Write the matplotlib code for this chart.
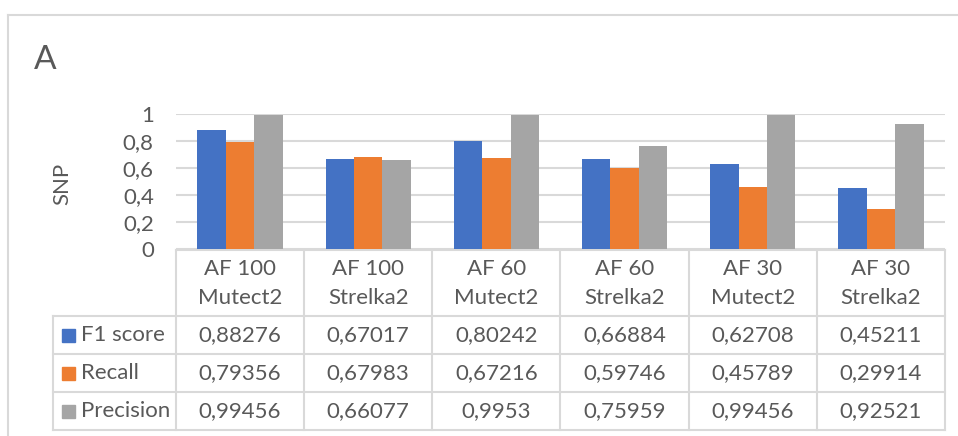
import matplotlib
matplotlib.use("Agg")
import matplotlib.pyplot as plt
import numpy as np
from matplotlib.patches import Rectangle

# ── Data ──────────────────────────────────────────────────────────────────────
categories = [
    ("AF 100", "Mutect2"),
    ("AF 100", "Strelka2"),
    ("AF 60", "Mutect2"),
    ("AF 60", "Strelka2"),
    ("AF 30", "Mutect2"),
    ("AF 30", "Strelka2"),
]
series_names = ["F1 score", "Recall", "Precision"]
f1_score = [0.88276, 0.67017, 0.80242, 0.66884, 0.62708, 0.45211]
recall = [0.79356, 0.67983, 0.67216, 0.59746, 0.45789, 0.29914]
precision = [0.99456, 0.66077, 0.9953, 0.75959, 0.99456, 0.92521]
y_ticks = [0, 0.2, 0.4, 0.6, 0.8, 1]

# ── Style ─────────────────────────────────────────────────────────────────────
COLORS = ["#4472C4", "#ED7D31", "#A5A5A5"]
GRID = "#D9D9D9"
TEXT = "#595959"
FS = 16
plt.rcParams["font.family"] = ["Lato", "DejaVu Sans"]

W, H = 958, 436
PLOT_L, PLOT_R = 176, 945          # plot area, pixels
PLOT_T, PLOT_B = 114, 249
LEG_L = 53                          # left edge of the legend column
ROW_Y = [316, 354, 392, 430]        # data-table row borders

fig = plt.figure(figsize=(W / 100, H / 100), dpi=100)

# pixel-space overlay for frame, labels and data table
ov = fig.add_axes([0, 0, 1, 1])
ov.set_xlim(0, W)
ov.set_ylim(H, 0)
ov.axis("off")

ov.plot([8, W], [15, 15], color=GRID, lw=1.5)
ov.plot([8, 8], [15, H], color=GRID, lw=1.5)
ov.text(34, 60, "A", fontsize=24, color=TEXT, va="center", ha="left")
ov.text(62, (PLOT_T + PLOT_B) / 2 + 2, "SNP", fontsize=FS, color=TEXT,
        rotation=90, va="center", ha="center")

# bar chart
ax = fig.add_axes([PLOT_L / W, 1 - PLOT_B / H,
                   (PLOT_R - PLOT_L) / W, (PLOT_B - PLOT_T) / H])
ax.patch.set_alpha(0)
x = np.arange(len(categories))
bar_w = 0.222
for i, (vals, color) in enumerate(zip([f1_score, recall, precision], COLORS)):
    ax.bar(x + (i - 1) * bar_w, vals, width=bar_w, color=color, zorder=3)

ax.set_xlim(-0.5, len(categories) - 0.5)
ax.set_ylim(0, 1)
ax.set_yticks(y_ticks)
ax.set_yticklabels([f"{t:g}".replace(".", ",") for t in y_ticks],
                   fontsize=FS, color=TEXT)
ax.tick_params(axis="y", length=0, pad=16)
ax.set_xticks([])
ax.grid(axis="y", color=GRID, lw=1.5, zorder=0)
for s in ax.spines.values():
    s.set_visible(False)

# data table
col_w = (PLOT_R - PLOT_L) / len(categories)
col_x = [PLOT_L + k * col_w for k in range(len(categories) + 1)]

lk = dict(color=GRID, lw=1.5)
ov.plot([PLOT_L, PLOT_R], [PLOT_B + 1, PLOT_B + 1], **lk)
for y in ROW_Y:
    ov.plot([LEG_L, PLOT_R], [y, y], **lk)
for cx in col_x:
    ov.plot([cx, cx], [PLOT_B + 1, ROW_Y[-1]], **lk)
ov.plot([LEG_L, LEG_L], [ROW_Y[0], ROW_Y[-1]], **lk)

for k, (top, bottom) in enumerate(categories):
    cx = (col_x[k] + col_x[k + 1]) / 2
    ov.text(cx, 269, top, fontsize=FS, color=TEXT, ha="center", va="center")
    ov.text(cx, 298, bottom, fontsize=FS, color=TEXT, ha="center", va="center")

for r, (name, vals, color) in enumerate(
        zip(series_names, [f1_score, recall, precision], COLORS)):
    cy = (ROW_Y[r] + ROW_Y[r + 1]) / 2
    ov.add_patch(Rectangle((62, cy - 6.5), 13, 13, color=color))
    ov.text(81, cy, name, fontsize=FS, color=TEXT, ha="left", va="center")
    for k, v in enumerate(vals):
        cx = (col_x[k] + col_x[k + 1]) / 2
        ov.text(cx, cy, f"{v:g}".replace(".", ","), fontsize=FS,
                color=TEXT, ha="center", va="center")

fig.savefig("out.png", dpi=100)
